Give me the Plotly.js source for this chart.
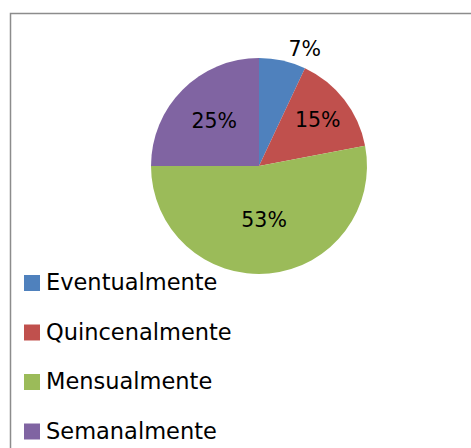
<!DOCTYPE html>
<html>
<head>
<meta charset="utf-8">
<script src="https://cdn.plot.ly/plotly-3.0.1.min.js"></script>
<style>
  html, body { margin: 0; padding: 0; background: #fff; }
  #chart { width: 471px; height: 448px; }
</style>
</head>
<body>
<div id="chart"></div>
<script>
// frequency of use (percent)
const labels = ['Eventualmente', 'Quincenalmente', 'Mensualmente', 'Semanalmente'];
const values = [7, 15, 53, 25];
const colors = ['#4F81BD', '#C0504D', '#9BBB59', '#8064A2'];
const textPositions = ['outside', 'inside', 'inside', 'inside'];

const W = 471, H = 448;
const font = 'DejaVu Sans, sans-serif';

// pie placement in pixels -> paper fractions
const cx = 259, cy = 166, r = 108;
const domain = {
    x: [(cx - r) / W, (cx + r) / W],
    y: [(H - cy - r) / H, (H - cy + r) / H],
};

const trace = {
    type: 'pie',
    labels,
    values,
    sort: false,
    direction: 'clockwise',
    rotation: 0,
    domain,
    marker: { colors, line: { width: 0 } },
    textinfo: 'percent',
    textposition: textPositions,
    insidetextorientation: 'horizontal',
    textfont: { family: font, size: 20.5, color: '#000' },
    showlegend: false,
    hoverinfo: 'label+percent',
};

// legend built by hand so rows can keep the wide spacing of the original
const legendTop = 283, legendStep = 49.5;
const shapes = [{
    type: 'rect', xref: 'paper', yref: 'paper',
    x0: 10.5 / W, x1: 490 / W, y0: -20 / H, y1: (H - 13.5) / H,
    line: { color: '#8c8c8c', width: 1.5 }, fillcolor: 'rgba(0,0,0,0)',
}];
const annotations = [];
labels.forEach((lab, i) => {
    const yc = legendTop + i * legendStep;
    shapes.push({
        type: 'rect', xref: 'paper', yref: 'paper',
        x0: 24 / W, x1: 40 / W, y0: (H - yc - 8) / H, y1: (H - yc + 8) / H,
        line: { width: 0 }, fillcolor: colors[i],
    });
    annotations.push({
        xref: 'paper', yref: 'paper', x: 44 / W, y: (H - yc + 1) / H,
        xanchor: 'left', yanchor: 'middle', showarrow: false,
        text: lab, font: { family: font, size: 22.5, color: '#000' },
    });
});

const layout = {
    width: W,
    height: H,
    margin: { l: 0, r: 0, t: 0, b: 0 },
    paper_bgcolor: '#fff',
    showlegend: false,
    shapes,
    annotations,
};

Plotly.newPlot('chart', [trace], layout, { displayModeBar: false, staticPlot: true });
</script>
</body>
</html>
